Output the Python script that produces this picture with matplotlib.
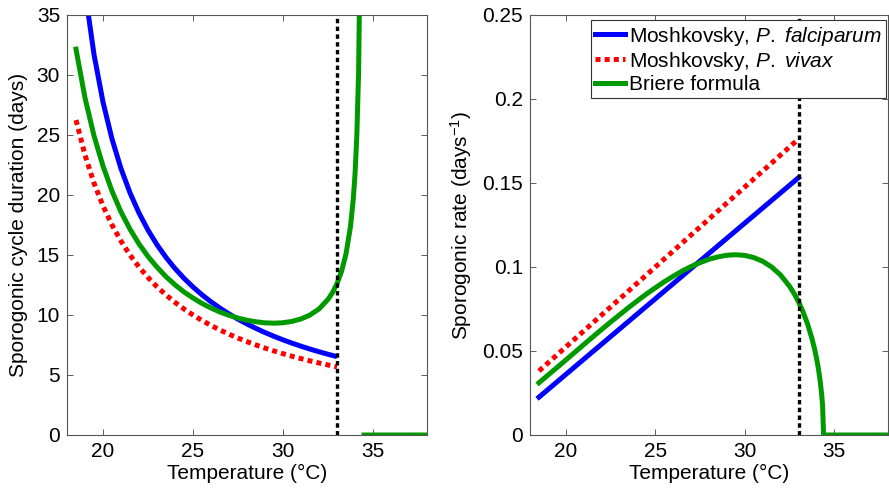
import matplotlib
matplotlib.use('Agg')
import matplotlib.pyplot as plt
import numpy as np

# temperatures (deg C) and sporogonic rates (1/days)
temps = [18.5, 19.0, 19.5, 20.0, 20.5, 21.0, 21.5, 22.0, 22.5, 23.0,
         23.5, 24.0, 24.5, 25.0, 25.5, 26.0, 26.5, 27.0, 27.5, 28.0,
         28.5, 29.0, 29.5, 30.0, 30.5, 31.0, 31.5, 32.0, 32.5, 33.0]
rateFalciparum = [0.02252, 0.02703, 0.03153, 0.03604, 0.04054, 0.04505,
                  0.04955, 0.05405, 0.05856, 0.06306, 0.06757, 0.07207,
                  0.07658, 0.08108, 0.08559, 0.09009, 0.09459, 0.09910,
                  0.10360, 0.10811, 0.11261, 0.11712, 0.12162, 0.12613,
                  0.13063, 0.13514, 0.13964, 0.14414, 0.14865, 0.15315]
rateVivax = [0.03810, 0.04286, 0.04762, 0.05238, 0.05714, 0.06190,
             0.06667, 0.07143, 0.07619, 0.08095, 0.08571, 0.09048,
             0.09524, 0.10000, 0.10476, 0.10952, 0.11429, 0.11905,
             0.12381, 0.12857, 0.13333, 0.13810, 0.14286, 0.14762,
             0.15238, 0.15714, 0.16190, 0.16667, 0.17143, 0.17619]

tempsBriere = [18.5, 19.0, 19.5, 20.0, 20.5, 21.0, 21.5, 22.0, 22.5, 23.0,
               23.5, 24.0, 24.5, 25.0, 25.5, 26.0, 26.5, 27.0, 27.5, 28.0,
               28.5, 29.0, 29.5, 30.0, 30.5, 31.0, 31.5, 32.0, 32.5, 32.75,
               33.0, 33.25, 33.5, 33.75, 33.9, 34.0, 34.1, 34.2, 34.3, 34.35,
               34.4, 34.5, 38.0]
rateBriere = [0.0311, 0.0356, 0.0401, 0.0446, 0.0492, 0.0538, 0.0583, 0.0628,
              0.0672, 0.0715, 0.0758, 0.0799, 0.0839, 0.0876, 0.0912, 0.0945,
              0.0976, 0.1003, 0.1026, 0.1046, 0.1060, 0.1070, 0.1073, 0.1069,
              0.1056, 0.1034, 0.1000, 0.0952, 0.0885, 0.0843,
              0.0793, 0.0734, 0.0663, 0.0575, 0.0511, 0.0461, 0.0402, 0.0331,
              0.0236, 0.0168, 0.0, 0.0, 0.0]

tMax = 33.0
labels = [r'Moshkovsky, $\mathit{P.\ falciparum}$',
          r'Moshkovsky, $\mathit{P.\ vivax}$',
          'Briere formula']

plt.rcParams['font.family'] = ['Liberation Sans', 'DejaVu Sans']
plt.rcParams['mathtext.fontset'] = 'custom'
plt.rcParams['mathtext.rm'] = 'Liberation Sans'
plt.rcParams['mathtext.it'] = 'Liberation Sans:italic'
plt.rcParams['font.size'] = 15
plt.rcParams['lines.scale_dashes'] = False

blue = (0, 0, 1)
red = (1, 0, 0)
green = (0, 0.6, 0)
lw = 3.6

T = np.array(temps)
TB = np.array(tempsBriere)
rF = np.array(rateFalciparum)
rV = np.array(rateVivax)
rB = np.array(rateBriere)

# durations are reciprocal of rates; Briere duration shown as 0 past the upper limit
durB = np.zeros_like(rB)
durB[rB > 0] = 1.0 / rB[rB > 0]
durB[np.argmax(rB == 0)] = np.nan

fig = plt.figure(figsize=(8.89, 4.93), dpi=100)
ax1 = fig.add_axes([67 / 889, 1 - 435 / 493, 360 / 889, 420 / 493])
ax2 = fig.add_axes([530 / 889, 1 - 435 / 493, 358 / 889, 420 / 493])


def StyleAxes(ax):
    ax.set_xlim(18, 38)
    ax.set_xticks([20, 25, 30, 35])
    ax.tick_params(direction='in', top=True, right=True, length=4,
                   width=0.6, color='#444444', pad=5)
    for s in ax.spines.values():
        s.set_linewidth(0.8)
        s.set_color('#555555')
    ax.set_xlabel('Temperature (°C)', labelpad=2)


ax1.plot(T, 1.0 / rF, color=blue, lw=lw, solid_capstyle='butt')
ax1.plot(T, 1.0 / rV, color=red, lw=lw, dashes=(3.6, 3.0))
ax1.plot(TB, durB, color=green, lw=lw)
ax1.plot([tMax, tMax], [0, 35], color='k', lw=2.4, dashes=(3.2, 2.4))
ax1.set_ylim(0, 35)
ax1.set_yticks(range(0, 36, 5))
StyleAxes(ax1)
ax1.set_ylabel('Sporogonic cycle duration (days)', labelpad=6)

h1, = ax2.plot(T, rF, color=blue, lw=lw)
h2, = ax2.plot(T, rV, color=red, lw=lw, dashes=(3.6, 3.0))
h3, = ax2.plot(TB, rB, color=green, lw=lw)
ax2.plot([tMax, tMax], [0, 0.25], color='k', lw=2.4, dashes=(3.2, 2.4))
ax2.set_ylim(0, 0.25)
ax2.set_yticks([0, 0.05, 0.1, 0.15, 0.2, 0.25])
ax2.set_yticklabels(['0', '0.05', '0.1', '0.15', '0.2', '0.25'])
StyleAxes(ax2)
ax2.set_ylabel('Sporogonic rate (days$^{-1}$)', labelpad=6)

leg = ax2.legend([h1, h2, h3], labels, loc='upper right',
                 bbox_to_anchor=(1 - 2 / 358, 1 - 5.5 / 420), fancybox=False,
                 framealpha=1, edgecolor='#333333', handlelength=1.45,
                 handletextpad=0.2, labelspacing=0.1, borderpad=0.2,
                 borderaxespad=0)
leg.get_frame().set_linewidth(0.8)

fig.savefig('out.png', dpi=100)
